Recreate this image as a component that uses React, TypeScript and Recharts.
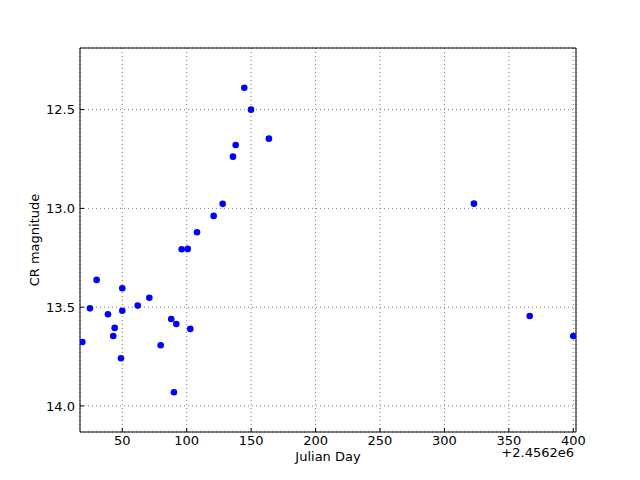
import { ScatterChart, Scatter, XAxis, YAxis, CartesianGrid, Label } from 'recharts'

// Julian Day (minus 2456200) and CR magnitude
const julianDay = [
 19.0, 24.9, 30.1, 38.9, 43.0, 44.1, 49.0, 50.0, 50.0, 62.0,
 71.0, 79.8, 88.0, 90.1, 91.9, 96.1, 100.8, 102.8, 108.0, 120.9,
 127.9, 135.9, 138.0, 144.7, 149.9, 163.8, 322.9, 366.2, 400.0,
]
const crMagnitude = [
 13.676, 13.506, 13.362, 13.536, 13.646, 13.605, 13.759, 13.404, 13.518, 13.492,
 13.452, 13.693, 13.56, 13.931, 13.585, 13.207, 13.205, 13.61, 13.121, 13.038,
 12.977, 12.738, 12.679, 12.389, 12.5, 12.647, 12.976, 13.545, 13.646,
]

const dayTicks = [50, 100, 150, 200, 250, 300, 350, 400]
const magTicks = [12.5, 13.0, 13.5, 14.0]
const dayDomain: [number, number] = [17.2, 402.1]
const magDomain: [number, number] = [12.188, 14.132]

const points = julianDay.map((jd, i) => ({ jd, mag: crMagnitude[i] }))

const FONT = '"DejaVu Sans", sans-serif'
const tickStyle = { fill: '#000', fontSize: 13, fontFamily: FONT }

const Dot = (props: any) => {
 if (props.cx == null || props.cy == null) return null
 return <circle cx={props.cx} cy={props.cy} r={3.3} fill="#0000ff" />
}

const XTitle = ({ viewBox }: any) => {
 const { x, y, width } = viewBox
 return (
  <g fontFamily={FONT} fontSize={13} fill="#000">
   <text x={x + width / 2} y={y + 28.5} textAnchor="middle">Julian Day</text>
   <text x={x + width - 2} y={y + 24.5} textAnchor="end">+2.4562e6</text>
  </g>
 )
}

const YTitle = ({ viewBox }: any) => {
 const { x, y, height } = viewBox
 const cx = x + 39
 const cy = y + height / 2
 return (
  <text x={cx} y={cy} textAnchor="middle" fontFamily={FONT} fontSize={13} fill="#000"
   transform={`rotate(-90, ${cx}, ${cy})`}>
   CR magnitude
  </text>
 )
}

export default function App() {
 return (
  <div style={{ position: 'absolute', left: 0, top: 0, width: 640, height: 480, background: '#fff' }}>
   <ScatterChart width={640} height={480} margin={{ top: 47, right: 63, bottom: 0, left: 0 }} style={{ fontFamily: FONT }}>
    <CartesianGrid stroke="#7a7a7a" strokeDasharray="1 3" strokeWidth={1} />
    <XAxis
     dataKey="jd"
     type="number"
     domain={dayDomain}
     ticks={dayTicks}
     allowDataOverflow
     interval={0}
     height={48}
     tickSize={-4}
     tickMargin={8}
     tick={tickStyle}
     stroke="#000"
     tickLine={{ stroke: '#000' }}
    >
     <Label content={XTitle} />
    </XAxis>
    <XAxis
     xAxisId="top"
     orientation="top"
     type="number"
     domain={dayDomain}
     ticks={dayTicks}
     allowDataOverflow
     interval={0}
     height={1}
     tickSize={-4}
     tick={false}
     stroke="#000"
     tickLine={{ stroke: '#000' }}
    />
    <YAxis
     dataKey="mag"
     type="number"
     reversed
     domain={magDomain}
     ticks={magTicks}
     allowDataOverflow
     interval={0}
     width={80}
     tickSize={-4}
     tickMargin={9}
     tick={tickStyle}
     tickFormatter={(v: number) => v.toFixed(1)}
     stroke="#000"
     tickLine={{ stroke: '#000' }}
    >
     <Label content={YTitle} />
    </YAxis>
    <YAxis
     yAxisId="right"
     orientation="right"
     type="number"
     reversed
     domain={magDomain}
     ticks={magTicks}
     allowDataOverflow
     interval={0}
     width={1}
     tickSize={-4}
     tick={false}
     stroke="#000"
     tickLine={{ stroke: '#000' }}
    />
    <Scatter data={points} fill="#0000ff" shape={Dot} isAnimationActive={false} />
   </ScatterChart>
  </div>
 )
}
